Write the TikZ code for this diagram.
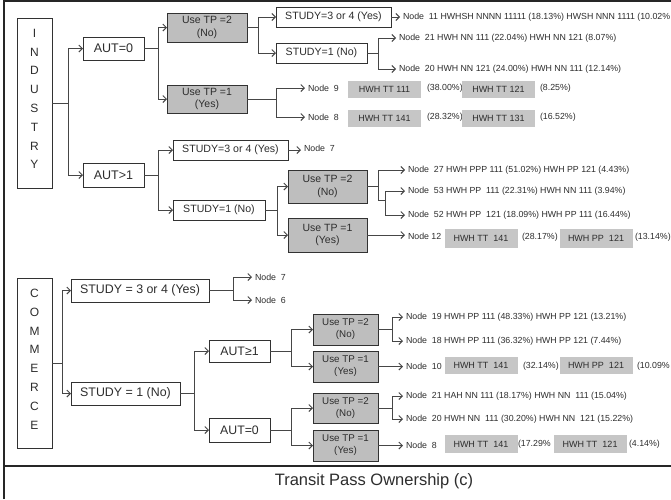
\documentclass[tikz,border=0pt]{standalone}
\usepackage{fontspec}
\setmainfont{Liberation Sans}
\usetikzlibrary{arrows.meta}
\definecolor{ln}{RGB}{70,70,70}
\definecolor{bd}{RGB}{50,50,50}
\definecolor{boxgray}{RGB}{190,190,190}
\definecolor{hlgray}{RGB}{198,198,198}
\definecolor{txt}{RGB}{45,45,45}
\begin{document}
\begin{tikzpicture}[x=1pt,y=-1pt,
  every node/.style={inner sep=0pt, outer sep=0pt, text=txt},
  wbox/.style={draw=bd, line width=0.9pt, fill=white, align=center},
  gbox/.style={draw=bd, line width=0.9pt, fill=boxgray, align=center},
  hl/.style={fill=hlgray, minimum width=73pt, minimum height=17pt, font=\fontsize{9}{10}\selectfont},
  lbl/.style={anchor=west, font=\fontsize{8.8}{10}\selectfont, inner xsep=3pt},
  pct/.style={anchor=west, font=\fontsize{8.8}{10}\selectfont},
  conn/.style={draw=ln, line width=1pt},
  arr/.style={conn, -{Straight Barb[length=3.5pt,width=7pt]}},
  frame/.style={draw=black!85, line width=1.6pt},
  letters/.style={align=center, font=\fontsize{12}{18.8}\selectfont}
]
\useasboundingbox (0,0) rectangle (671,499);
\fill[white] (0,0) rectangle (671,499);

% frame
\draw[frame] (4,499) -- (4,1) -- (671,1);
\draw[frame] (4,466) -- (671,466);
\node[font=\fontsize{16.5}{18}\selectfont] (cap) at (374,481) {Transit Pass Ownership (c)};

% ================= INDUSTRY =================
\node[wbox, minimum width=35pt, minimum height=170pt] (ind) at (34.5,103) {};
\node[letters] (indtxt) at (34.5,99) {I\\N\\D\\U\\S\\T\\R\\Y};

\node[wbox, minimum width=61pt, minimum height=23pt, font=\fontsize{12.5}{14}\selectfont] (aut0) at (113.5,48.5) {AUT=0};
\node[wbox, minimum width=61pt, minimum height=24pt, font=\fontsize{12.5}{14}\selectfont] (autg) at (113.5,175) {AUT>1};

\node[gbox, minimum width=80pt, minimum height=29pt, font=\fontsize{10.5}{12.5}\selectfont] (tp2a) at (207,27.5) {Use TP =2\\(No)};
\node[gbox, minimum width=80pt, minimum height=28pt, font=\fontsize{10.5}{12.5}\selectfont] (tp1a) at (207,99) {Use TP =1\\(Yes)};

\node[wbox, minimum width=115pt, minimum height=20pt, font=\fontsize{10.6}{12}\selectfont] (s34a) at (333.5,17) {STUDY=3 or 4 (Yes)};
\node[wbox, minimum width=91pt, minimum height=20pt, font=\fontsize{10.6}{12}\selectfont] (s1a) at (321.5,53) {STUDY=1 (No)};

\node[wbox, minimum width=115pt, minimum height=20pt, font=\fontsize{10.6}{12}\selectfont] (s34b) at (230.5,150) {STUDY=3 or 4 (Yes)};
\node[wbox, minimum width=92pt, minimum height=20pt, font=\fontsize{10.6}{12}\selectfont] (s1b) at (219,210) {STUDY=1 (No)};

\node[gbox, minimum width=79pt, minimum height=33pt, font=\fontsize{10.5}{12.5}\selectfont] (tp2b) at (327.5,186.5) {Use TP =2\\(No)};
\node[gbox, minimum width=79pt, minimum height=34pt, font=\fontsize{10.5}{12.5}\selectfont] (tp1b) at (327.5,235) {Use TP =1\\(Yes)};

% industry leaf texts
\node[lbl] (n11) at (400,17) {Node\ \ 11 HWHSH NNNN 11111 (18.13\%) HWSH NNN 1111 (10.02\%};
\node[lbl] (n21) at (396,38) {Node\ \ 21 HWH NN 111 (22.04\%) HWH NN 121 (8.07\%)};
\node[lbl] (n20) at (396,69) {Node\ \ 20 HWH NN 121 (24.00\%) HWH NN 111 (12.14\%)};

\node[lbl] (n9) at (305,88) {Node\ \ 9};
\node[hl] (h9a) at (384.5,89) {HWH TT 111};
\node[pct] (p9a) at (427,88) {(38.00\%)};
\node[hl] (h9b) at (498.5,89) {HWH TT 121};
\node[pct] (p9b) at (540,88) {(8.25\%)};

\node[lbl] (n8) at (305,117) {Node\ \ 8};
\node[hl] (h8a) at (384.5,118) {HWH TT 141};
\node[pct] (p8a) at (427,117) {(28.32\%)};
\node[hl] (h8b) at (498.5,118) {HWH TT 131};
\node[pct] (p8b) at (540,117) {(16.52\%)};

\node[lbl] (n7) at (301,148) {Node\ \ 7};

\node[lbl] (n27) at (405,170) {Node\ \ 27 HWH PPP 111 (51.02\%) HWH PP 121 (4.43\%)};
\node[lbl] (n53) at (405,191) {Node\ \ 53 HWH PP\ \ 111 (22.31\%) HWH NN 111 (3.94\%)};
\node[lbl] (n52) at (405,215) {Node\ \ 52 HWH PP\ \ 121 (18.09\%) HWH PP 111 (16.44\%)};

\node[lbl] (n12) at (405,236) {Node 12};
\node[hl, minimum height=19pt] (h12a) at (481,238.5) {HWH TT\ \ 141};
\node[pct] (p12a) at (522,237) {(28.17\%)};
\node[hl, minimum height=19pt] (h12b) at (596,238.5) {HWH PP\ \ 121};
\node[pct] (p12b) at (635,237) {(13.14\%)};

% industry connectors
\draw[arr] (ind.east) -- ++(16,0) |- (aut0.west);
\draw[arr] (ind.east) -- ++(16,0) |- (autg.west);
\draw[arr] (aut0.east) -- ++(14,0) |- (tp2a.west);
\draw[arr] (aut0.east) -- ++(14,0) |- (tp1a.west);
\draw[arr] (tp2a.east) -- ++(11,0) |- (s34a.west);
\draw[arr] (tp2a.east) -- ++(11,0) |- (s1a.west);
\draw[arr] (s34a.east) -- (n11.west);
\draw[arr] (s1a.east) -- ++(11,0) |- (n21.west);
\draw[arr] (s1a.east) -- ++(11,0) |- (n20.west);
\draw[arr] (tp1a.east) -- ++(29,0) |- (n9.west);
\draw[arr] (tp1a.east) -- ++(29,0) |- (n8.west);

\draw[arr] (autg.east) -- ++(14,0) |- (s34b.west);
\draw[arr] (autg.east) -- ++(14,0) |- (s1b.west);
\draw[arr] (s34b.east) -- (n7.west |- s34b.east);
\draw[arr] (s1b.east) -- ++(12,0) |- (tp2b.west);
\draw[arr] (s1b.east) -- ++(12,0) |- (tp1b.west);
\draw[conn] (tp2b.east) -- ++(11,0) coordinate (j1);
\draw[arr] (j1) |- (n27.west);
\draw[conn] (j1) -- ++(0,13.5) coordinate (j2) -- ++(7,0) coordinate (j3);
\draw[arr] (j3) |- (n53.west);
\draw[arr] (j3) |- (n52.west);
\draw[arr] (tp1b.east) -- (n12.west |- tp1b.east);

% ================= COMMERCE =================
\node[wbox, minimum width=35pt, minimum height=170pt] (com) at (34.5,363) {};
\node[letters] (comtxt) at (34.5,359) {C\\O\\M\\M\\E\\R\\C\\E};

\node[wbox, minimum width=138pt, minimum height=23pt, font=\fontsize{12.4}{14}\selectfont] (cs34) at (140,290.5) {STUDY = 3 or 4 (Yes)};
\node[wbox, minimum width=109pt, minimum height=23pt, font=\fontsize{12.4}{14}\selectfont] (cs1) at (125.5,393.5) {STUDY = 1 (No)};

\node[wbox, minimum width=61pt, minimum height=22pt, font=\fontsize{12.3}{14}\selectfont] (caut1) at (239.5,351) {AUT≥1};
\node[wbox, minimum width=61pt, minimum height=24pt, font=\fontsize{12.3}{14}\selectfont] (caut0) at (239.5,430) {AUT=0};

\node[gbox, minimum width=65pt, minimum height=31pt, font=\fontsize{9.8}{12}\selectfont] (ctp2a) at (345.5,329.5) {Use TP =2\\(No)};
\node[gbox, minimum width=65pt, minimum height=31pt, font=\fontsize{9.8}{12}\selectfont] (ctp1a) at (345.5,366.5) {Use TP =1\\(Yes)};
\node[gbox, minimum width=65pt, minimum height=30pt, font=\fontsize{9.8}{12}\selectfont] (ctp2b) at (345.5,408) {Use TP =2\\(No)};
\node[gbox, minimum width=65pt, minimum height=31pt, font=\fontsize{9.8}{12}\selectfont] (ctp1b) at (345.5,445.5) {Use TP =1\\(Yes)};

\node[lbl] (cn7) at (252,277) {Node\ \ 7};
\node[lbl] (cn6) at (252,300) {Node\ \ 6};

\node[lbl] (cn19) at (403,317) {Node\ \ 19 HWH PP 111 (48.33\%) HWH PP 121 (13.21\%)};
\node[lbl] (cn18) at (403,341) {Node\ \ 18 HWH PP 111 (36.32\%) HWH PP 121 (7.44\%)};

\node[lbl] (cn10) at (403,366.5) {Node\ \ 10};
\node[hl] (h10a) at (481,365.5) {HWH TT\ \ 141};
\node[pct] (p10a) at (523,366) {(32.14\%)};
\node[hl] (h10b) at (596,365.5) {HWH PP\ \ 121};
\node[pct] (p10b) at (637,366) {(10.09\%};

\node[lbl] (cn21) at (403,396) {Node\ \ 21 HAH NN 111 (18.17\%) HWH NN\ \ 111 (15.04\%)};
\node[lbl] (cn20) at (403,419) {Node\ \ 20 HWH NN\ \ 111 (30.20\%) HWH NN\ \ 121 (15.22\%)};

\node[lbl] (cn8) at (403,445.5) {Node\ \ 8};
\node[hl, minimum height=18pt] (h8ca) at (481,444) {HWH TT\ \ 141};
\node[pct] (p8ca) at (518,444) {(17.29\%};
\node[hl, minimum height=18pt] (h8cb) at (590,444) {HWH TT\ \ 121};
\node[pct] (p8cb) at (629,444) {(4.14\%)};

% commerce connectors
\draw[arr] (com.east) -- ++(10,0) |- (cs34.west);
\draw[arr] (com.east) -- ++(10,0) |- (cs1.west);
\draw[arr] (cs34.east) -- ++(24,0) |- (cn7.west);
\draw[arr] (cs34.east) -- ++(24,0) |- (cn6.west);
\draw[arr] (cs1.east) -- ++(14,0) |- (caut1.west);
\draw[arr] (cs1.east) -- ++(14,0) |- (caut0.west);
\draw[arr] (caut1.east) -- ++(21,0) |- (ctp2a.west);
\draw[arr] (caut1.east) -- ++(21,0) |- (ctp1a.west);
\draw[arr] (caut0.east) -- ++(21,0) |- (ctp2b.west);
\draw[arr] (caut0.east) -- ++(21,0) |- (ctp1b.west);
\draw[arr] (ctp2a.east) -- ++(14,0) |- (cn19.west);
\draw[arr] (ctp2a.east) -- ++(14,0) |- (cn18.west);
\draw[arr] (ctp1a.east) -- (cn10.west);
\draw[arr] (ctp2b.east) -- ++(14,0) |- (cn21.west);
\draw[arr] (ctp2b.east) -- ++(14,0) |- (cn20.west);
\draw[arr] (ctp1b.east) -- (cn8.west);
\end{tikzpicture}
\end{document}
